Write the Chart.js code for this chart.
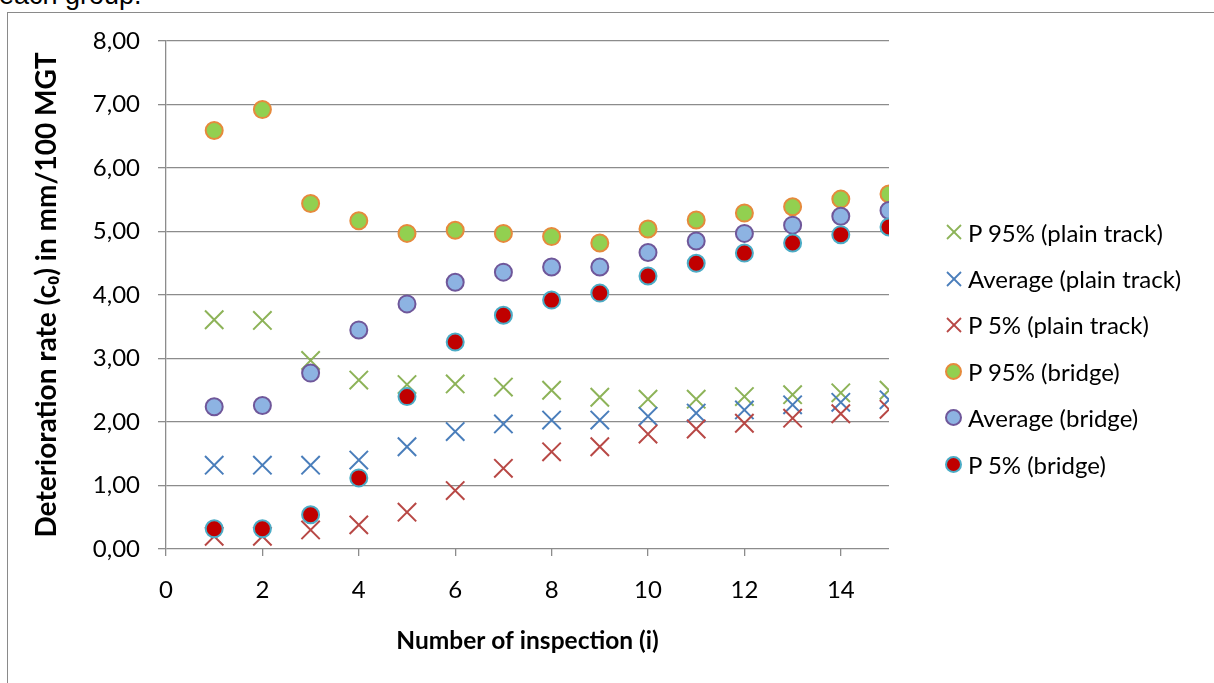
<!DOCTYPE html>
<html>
<head>
<meta charset="utf-8">
<script src="https://cdn.jsdelivr.net/npm/chart.js@4"></script>
<style>
    html, body { margin: 0; padding: 0; background: #fff; }
    #page { position: relative; width: 1214px; height: 683px; overflow: hidden; }
    #caption { position: absolute; left: -1px; top: -18px; font: 27px/27px "Liberation Sans", Arial, sans-serif; color: #000; white-space: nowrap; }
    #frame { position: absolute; left: 7px; top: 12px; width: 1220px; height: 700px; border-top: 1px solid #8a8a8a; border-left: 1px solid #8a8a8a; }
    #wrap { position: absolute; left: 0; top: 0; width: 1214px; height: 683px; }
    #legend { position: absolute; left: 945px; top: 209px; font: 24px Lato, sans-serif; color: #000; }
    .row { display: flex; align-items: center; height: 46.4px; }
    .mark { width: 17px; height: 17px; margin-right: 6px; display: flex; align-items: center; justify-content: center; }
    .dot { width: 13px; height: 13px; border-radius: 50%; border: 2px solid; }
</style>
</head>
<body>
<div id="page">
    <div id="caption">each group.</div>
    <div id="frame"></div>
    <div id="wrap"><canvas id="chart" width="1214" height="683"></canvas></div>
    <div id="legend"></div>
</div>
<script>
// inspection numbers
const inspections = [1, 2, 3, 4, 5, 6, 7, 8, 9, 10, 11, 12, 13, 14, 15];

// plain track
const p95Plain = [3.61, 3.60, 2.97, 2.66, 2.59, 2.60, 2.55, 2.50, 2.39, 2.36, 2.36, 2.40, 2.43, 2.46, 2.50];
const avgPlain = [1.32, 1.32, 1.32, 1.40, 1.61, 1.85, 1.97, 2.03, 2.03, 2.09, 2.14, 2.19, 2.27, 2.31, 2.35];
const p5Plain = [0.20, 0.20, 0.30, 0.38, 0.58, 0.92, 1.27, 1.53, 1.61, 1.81, 1.89, 1.98, 2.06, 2.13, 2.20];

// bridge
const p95Bridge = [6.59, 6.92, 5.44, 5.17, 4.97, 5.02, 4.97, 4.92, 4.82, 5.04, 5.18, 5.29, 5.39, 5.51, 5.59];
const avgBridge = [2.24, 2.26, 2.77, 3.45, 3.86, 4.20, 4.36, 4.44, 4.44, 4.67, 4.85, 4.97, 5.10, 5.24, 5.33];
const p5Bridge = [0.32, 0.32, 0.54, 1.12, 2.40, 3.26, 3.68, 3.92, 4.03, 4.30, 4.50, 4.66, 4.82, 4.95, 5.07];

const xTicks = [0, 2, 4, 6, 8, 10, 12, 14];
const yTicks = [0, 1, 2, 3, 4, 5, 6, 7, 8];

const gridColor = '#8c8c8c';
const fontFamily = 'Lato, "Noto Sans", sans-serif';

function toPoints(values) {
    return values.map((v, i) => ({ x: inspections[i], y: v }));
}

function crossSeries(label, values, color) {
    return {
        label: label,
        data: toPoints(values),
        pointStyle: 'crossRot',
        pointRadius: 13,
        pointBorderColor: color,
        pointBackgroundColor: color,
        pointBorderWidth: 2,
        kind: 'cross'
    };
}

function dotSeries(label, values, fill, border) {
    return {
        label: label,
        data: toPoints(values),
        pointStyle: 'circle',
        pointRadius: 8.5,
        pointBackgroundColor: fill,
        pointBorderColor: border,
        pointBorderWidth: 2,
        kind: 'dot'
    };
}

const datasets = [
    crossSeries('P 95% (plain track)', p95Plain, '#8db358'),
    crossSeries('Average (plain track)', avgPlain, '#4a7ebb'),
    crossSeries('P 5% (plain track)', p5Plain, '#b84845'),
    dotSeries('P 95% (bridge)', p95Bridge, '#92d050', '#e68a3c'),
    dotSeries('Average (bridge)', avgBridge, '#8db3e2', '#6f579a'),
    dotSeries('P 5% (bridge)', p5Bridge, '#c00000', '#4bacc6')
];
// later series drawn on top, like the original
datasets.forEach((ds, i) => { ds.order = datasets.length - i; });

const chart = new Chart(document.getElementById('chart'), {
    type: 'scatter',
    data: { datasets: datasets },
    options: {
        responsive: false,
        animation: false,
        events: [],
        layout: { padding: { left: 0, right: 325, top: 41, bottom: 0 } },
        plugins: {
            legend: { display: false },
            tooltip: { enabled: false }
        },
        scales: {
            x: {
                type: 'linear',
                min: 0,
                max: 15,
                afterFit: (scale) => { scale.height = 134; },
                afterBuildTicks: (scale) => { scale.ticks = xTicks.map(v => ({ value: v })); },
                ticks: {
                    color: '#000',
                    padding: 20,
                    font: { family: fontFamily, size: 24 },
                    maxRotation: 0
                },
                grid: {
                    drawOnChartArea: false,
                    drawTicks: true,
                    tickLength: 7,
                    color: gridColor,
                    lineWidth: 1.3
                },
                border: { display: false },
                title: {
                    display: true,
                    text: 'Number of inspection (i)',
                    color: '#000',
                    font: { family: fontFamily, size: 24.5, weight: 'bold' },
                    padding: { top: 0, bottom: 27 }
                }
            },
            y: {
                type: 'linear',
                min: 0,
                max: 8,
                afterFit: (scale) => { scale.width = 166; },
                afterBuildTicks: (scale) => { scale.ticks = yTicks.map(v => ({ value: v })); },
                ticks: {
                    color: '#000',
                    padding: 18,
                    font: { family: fontFamily, size: 24 },
                    callback: (v) => v.toFixed(2).replace('.', ',')
                },
                grid: {
                    drawOnChartArea: true,
                    drawTicks: true,
                    tickLength: 8,
                    color: gridColor,
                    lineWidth: 1.3
                },
                border: { display: true, color: gridColor, width: 1.3 },
                title: {
                    display: true,
                    text: 'Deterioration rate (c\u2080) in mm/100 MGT',
                    color: '#000',
                    font: { family: fontFamily, size: 28, weight: 'bold' },
                    padding: { top: 30, bottom: 0 }
                }
            }
        }
    }
});

// legend, same order as the original
const legend = document.getElementById('legend');
datasets.forEach(ds => {
    const row = document.createElement('div');
    row.className = 'row';
    const mark = document.createElement('div');
    mark.className = 'mark';
    if (ds.kind === 'cross') {
        const c = ds.pointBorderColor;
        mark.innerHTML = '<svg width="16" height="16"><line x1="1" y1="1" x2="15" y2="15" stroke="' + c +
            '" stroke-width="1.8"/><line x1="15" y1="1" x2="1" y2="15" stroke="' + c + '" stroke-width="1.8"/></svg>';
    } else {
        const dot = document.createElement('div');
        dot.className = 'dot';
        dot.style.background = ds.pointBackgroundColor;
        dot.style.borderColor = ds.pointBorderColor;
        mark.appendChild(dot);
    }
    const text = document.createElement('span');
    text.textContent = ds.label;
    row.appendChild(mark);
    row.appendChild(text);
    legend.appendChild(row);
});
</script>
</body>
</html>
